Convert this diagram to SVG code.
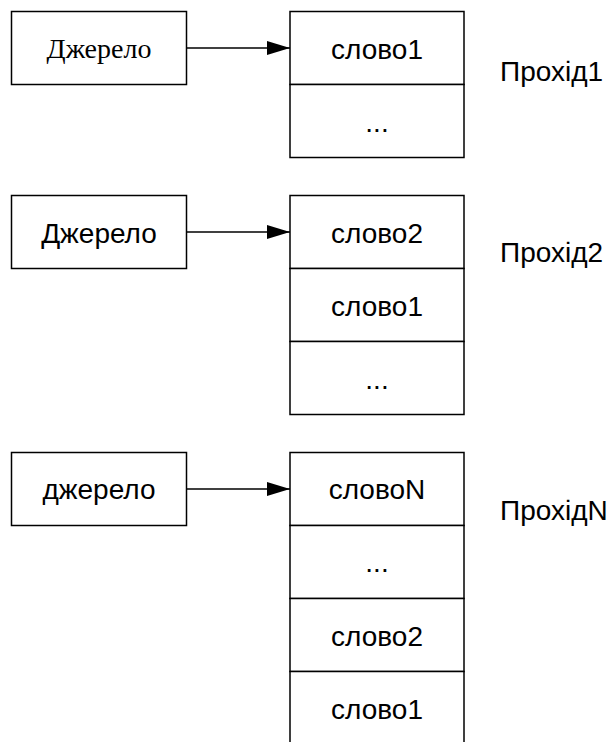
<svg xmlns="http://www.w3.org/2000/svg" width="611" height="742" viewBox="0 0 611 742">
<style>
.box{fill:#fff;stroke:#000;stroke-width:1.5}
.t{font-family:"Liberation Sans",Arial,sans-serif;font-size:28px;fill:#000;text-anchor:middle}
.ts{font-family:"Liberation Serif","Times New Roman",serif;font-size:28px;fill:#000;text-anchor:middle}
.lbl{font-family:"Liberation Sans",Arial,sans-serif;font-size:28px;fill:#000}
.edge{stroke:#000;stroke-width:1.5;fill:none}
</style>
<defs>
<marker id="ah" markerUnits="userSpaceOnUse" markerWidth="24" markerHeight="14" refX="23" refY="7" orient="auto">
<path d="M0,0 L23,7 L0,14 Z" fill="#000"/>
</marker>
</defs>
<rect width="611" height="742" fill="#fff"/>

<g id="src1"><rect class="box" x="11.5" y="11.5" width="175" height="73"/><text class="ts" x="99" y="58">Джерело</text></g>
<g id="stack1">
<rect class="box" x="290" y="11.5" width="174" height="73"/><text class="t" x="377" y="59">слово1</text>
<rect class="box" x="290" y="84.5" width="174" height="73"/><text class="t" x="377" y="132">...</text>
</g>
<g id="pass1"><text class="lbl" x="500" y="81">Прохід1</text></g>

<g id="src2"><rect class="box" x="11.5" y="195.5" width="175" height="73"/><text class="t" x="99" y="243">Джерело</text></g>
<g id="stack2">
<rect class="box" x="290" y="195.5" width="174" height="73"/><text class="t" x="377" y="243">слово2</text>
<rect class="box" x="290" y="268.5" width="174" height="73"/><text class="t" x="377" y="316">слово1</text>
<rect class="box" x="290" y="341.5" width="174" height="73"/><text class="t" x="377" y="389">...</text>
</g>
<g id="pass2"><text class="lbl" x="500" y="262">Прохід2</text></g>

<g id="src3"><rect class="box" x="11.5" y="452.5" width="175" height="73"/><text class="t" x="99" y="499">джерело</text></g>
<g id="stack3">
<rect class="box" x="290" y="452.5" width="174" height="73"/><text class="t" x="377" y="499">словоN</text>
<rect class="box" x="290" y="525.5" width="174" height="73"/><text class="t" x="377" y="572">...</text>
<rect class="box" x="290" y="598.5" width="174" height="73"/><text class="t" x="377" y="646">слово2</text>
<rect class="box" x="290" y="671.5" width="174" height="80"/><text class="t" x="377" y="719">слово1</text>
</g>
<g id="pass3"><text class="lbl" x="500" y="520">ПрохідN</text></g>

<g id="connectors">
<line class="edge" x1="186.5" y1="48" x2="290" y2="48" marker-end="url(#ah)"/>
<line class="edge" x1="186.5" y1="232" x2="290" y2="232" marker-end="url(#ah)"/>
<line class="edge" x1="186.5" y1="489" x2="290" y2="489" marker-end="url(#ah)"/>
</g>
</svg>
